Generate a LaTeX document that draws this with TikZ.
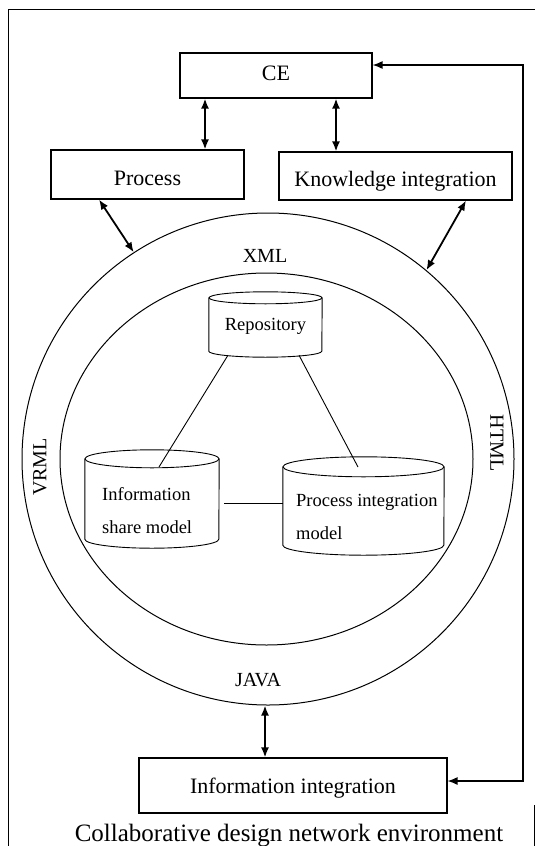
\documentclass[tikz,border=0pt]{standalone}
\usepackage{fontspec}
\setmainfont{Liberation Serif}
\usetikzlibrary{arrows.meta,shapes.geometric,calc}
\newcommand{\mycyl}[3]{% name, rx, ry
  \draw[thinl] ([yshift=-#3pt]#1.north) ellipse [x radius=#2pt, y radius=#3pt];
  \draw[thinl] ([yshift=-#3pt]#1.north west) -- ([yshift=#3pt]#1.south west)
     arc [start angle=180, end angle=360, x radius=#2pt, y radius=#3pt]
     -- ([yshift=-#3pt]#1.north east);}
\begin{document}
\begin{tikzpicture}[x=1pt,y=1pt,
  box/.style={draw, line width=1.1pt, inner sep=0pt, font=\fontsize{22}{26}\selectfont},
  dbl/.style={line width=1.8pt, {Latex[length=10pt,width=8pt]}-{Latex[length=10pt,width=8pt]}},
  fb/.style={line width=1.3pt, {Latex[length=10pt,width=8pt]}-{Latex[length=10pt,width=8pt]}},
  thinl/.style={line width=0.9pt},
  lbl/.style={inner sep=0pt, font=\fontsize{20}{24}\selectfont},
  ctext/.style={inner sep=0pt, anchor=base west, font=\fontsize{18.5}{22}\selectfont}]
\useasboundingbox (0,0) rectangle (535,-846);
% frame
\draw[line width=0.8pt] (8,-846) -- (8,-9) -- (535,-9);
\draw[line width=0.8pt] (534,-805) -- (534,-846);
% boxes
\node[box, minimum width=192pt, minimum height=45pt, text height=14pt, text depth=5pt] (ce) at (276,-75.5) {CE};
\node[box, minimum width=193pt, minimum height=49pt, text height=21pt, text depth=0pt] (proc) at (147.5,-174.5) {Process};
\node[box, minimum width=233pt, minimum height=48pt, text height=20pt, text depth=0pt] (know) at (395.5,-176) {Knowledge integration};
\node[box, minimum width=308pt, minimum height=55pt, text height=15pt, text depth=0pt] (info) at (293,-785.5) {Information integration};
% circles
\node[circle, draw, line width=1pt, minimum size=492pt, inner sep=0pt] (outer) at (268,-459) {};
\node[ellipse, draw, line width=1pt, minimum width=413pt, minimum height=372pt, inner sep=0pt] (inner) at (266.5,-459) {};
% labels on ring
\node[lbl] (xml) at (265,-256) {XML};
\node[lbl] (java) at (258,-680) {JAVA};
\node[lbl, rotate=90] (vrml) at (40,-467) {VRML};
\node[lbl, rotate=-90] (html) at (497,-443) {HTML};
% cylinders
\node[inner sep=0pt, minimum width=113pt, minimum height=65pt] (repo) at (265.5,-324.5) {};
\node[inner sep=0pt, minimum width=134pt, minimum height=98pt] (isg) at (152,-499) {};
\node[inner sep=0pt, minimum width=161pt, minimum height=98pt] (pim) at (363.5,-506) {};
\mycyl{repo}{56.5}{6}
\mycyl{isg}{67}{9}
\mycyl{pim}{80.5}{10}
\node[ctext, anchor=base] (repotxt) at (265.5,-330) {Repository};
\node[ctext] (isg1) at (102,-500) {Information};
\node[ctext] (isg2) at (102,-533) {share model};
\node[ctext] (pim1) at (296,-506) {Process integration};
\node[ctext] (pim2) at (296,-539) {model};
% links between cylinders
\draw[thinl] ([shift={(-37.5,2)}]repo.south) -- ([shift={(7,32)}]isg.center);
\draw[thinl] ([shift={(33.5,2)}]repo.south) -- ([shift={(-5.5,39)}]pim.center);
\draw[thinl] ([shift={(5,-4)}]isg.east) -- ([yshift=3pt]pim.west);
% arrows
\coordinate (ax1) at (205,0);
\coordinate (ax2) at (336,0);
\coordinate (ax3) at (99,0);
\coordinate (ax4) at (466,0);
\coordinate (ax5) at (265,0);
\draw[dbl] (ce.south -| ax1) -- (proc.north -| ax1);
\draw[dbl] (ce.south -| ax2) -- (know.north -| ax2);
\draw[dbl] (proc.south -| ax3) -- (outer.123.8);
\draw[dbl] (know.south -| ax4) -- (outer.50.3);
\draw[dbl] (outer.south -| ax5) -- (info.north -| ax5);
% feedback
\coordinate (fbt) at (523,-65);
\coordinate (fbb) at (523,-781);
\draw[fb] ([yshift=10.5pt]ce.east) -- (fbt) -- (fbb) -- ([yshift=4.5pt]info.east);
% caption
\node[inner sep=0pt, anchor=base, font=\fontsize{25}{30}\selectfont] (cap) at (289,-841) {Collaborative design network environment};
\end{tikzpicture}
\end{document}
